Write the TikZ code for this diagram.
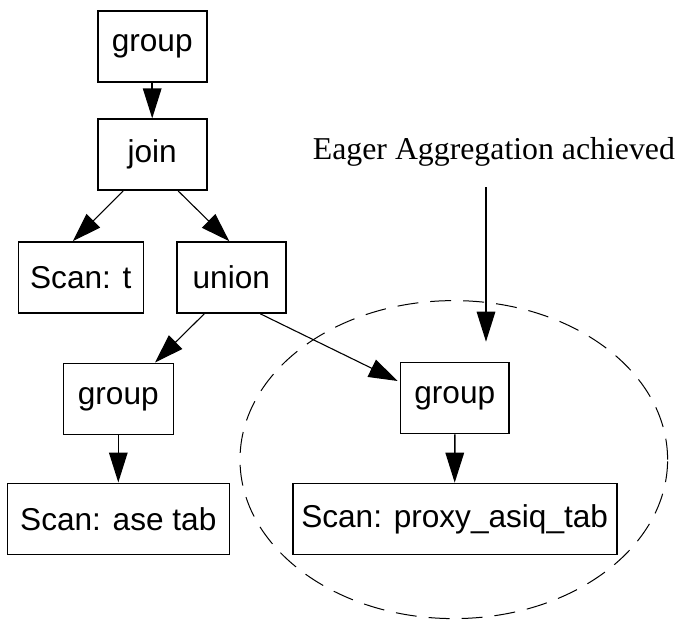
\documentclass[tikz,border=0pt]{standalone}
\usepackage{fontspec}
\setmainfont{Liberation Sans}
\newfontfamily\serifface{Liberation Serif}
\usetikzlibrary{arrows.meta,calc}
\begin{document}
\begin{tikzpicture}[x=1pt,y=-1pt,
  box/.style={draw,line width=1.6pt,inner sep=0pt,minimum height=71pt,
    font=\fontsize{31.6}{36}\selectfont},
  conn/.style={line width=1.1pt,-{Triangle[length=29pt,width=19pt]}},
  vconn/.style={line width=1.5pt,-{Triangle[length=30pt,width=18.5pt]}}]
\useasboundingbox (0,0) rectangle (680,619);
\node[box,minimum width=109pt] (g1) at (152.2,46.7) {group};
\node[box,minimum width=109pt] (join) at (152.2,154.7) {join};
\node[box,minimum width=125pt] (scant) at (80.8,277.5) {Scan: t};
\node[box,minimum width=109pt] (union) at (231.3,277.5) {union};
\node[box,minimum width=110pt] (g2) at (118.3,398.8) {group};
\node[box,minimum width=222pt] (scanase) at (118.3,518.8) {Scan: ase tab};
\node[box,minimum width=108.5pt] (g3) at (454.8,398) {group};
\node[box,minimum width=324pt] (proxy) at (454.7,519) {Scan: proxy\_asiq\_tab};
\node[anchor=base,inner sep=0pt,font=\serifface\fontsize{31.8}{36}\selectfont] (label) at (493.9,159) {Eager Aggregation achieved};
\coordinate (lstart) at (486,187.3);
\coordinate (lend) at (486,341.7);
\draw[dashed,dash pattern=on 21pt off 12pt,line width=1pt] (453.8,459.6) ellipse [x radius=213.8pt,y radius=159pt];
\draw[vconn] (g1.south) -- (join.north);
\draw[conn] ([xshift=-29pt]join.south) -- ([xshift=-8pt]scant.north);
\draw[conn] ([xshift=26pt]join.south) -- ([xshift=-2pt]union.north);
\draw[conn] ([xshift=-27pt]union.south) -- ([xshift=36.7pt]g2.north);
\draw[conn] ([xshift=29pt]union.south) -- ([yshift=17pt,xshift=-2pt]g3.west);
\draw[vconn] (g2.south) -- (scanase.north);
\draw[vconn] (g3.south) -- (proxy.north);
\draw[vconn] (lstart) -- (lend);
\end{tikzpicture}
\end{document}
